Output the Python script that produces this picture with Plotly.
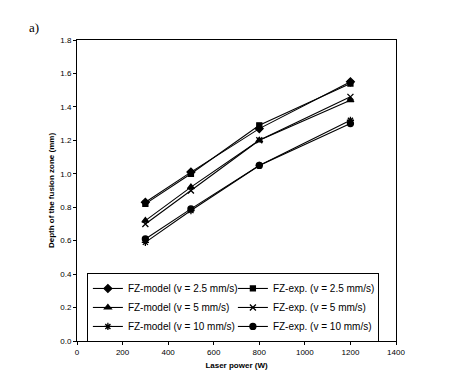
import plotly.graph_objects as go

power = [300, 500, 800, 1200]
model_25 = [0.83, 1.01, 1.27, 1.55]
exp_25 = [0.82, 1.00, 1.29, 1.54]
model_5 = [0.72, 0.92, 1.20, 1.44]
exp_5 = [0.70, 0.90, 1.20, 1.46]
model_10 = [0.59, 0.78, 1.05, 1.32]
exp_10 = [0.61, 0.79, 1.05, 1.30]

names = ["FZ-model (v = 2.5 mm/s)", "FZ-exp. (v = 2.5 mm/s)",
         "FZ-model (v = 5 mm/s)", "FZ-exp. (v = 5 mm/s)",
         "FZ-model (v = 10 mm/s)", "FZ-exp. (v = 10 mm/s)"]
series = [model_25, exp_25, model_5, exp_5, model_10, exp_10]
symbols = ["diamond", "square", "triangle-up", "x-thin-open", "asterisk-open", "circle"]
sizes = [6, 5, 6, 6, 6, 6]

fig = go.Figure()
for n, s, sym, sz in zip(names, series, symbols, sizes):
    fig.add_trace(go.Scatter(
        x=power, y=s, name=n, mode="lines+markers",
        line=dict(color="black", width=1.1),
        marker=dict(symbol=sym, size=sz, color="black",
                    line=dict(color="black", width=1.3)),
    ))

fig.update_layout(
    width=452, height=382,
    margin=dict(l=69, r=64, t=32, b=49),
    paper_bgcolor="white", plot_bgcolor="white",
    font=dict(family="Arial, Liberation Sans, sans-serif", color="black"),
    showlegend=True,
    legend=dict(
        orientation="h", x=0.031, y=0.226, xanchor="left", yanchor="top",
        entrywidth=100, entrywidthmode="pixels",
        bordercolor="black", borderwidth=1, bgcolor="white",
        font=dict(size=10, family="Arial, Liberation Sans, sans-serif"),
        itemwidth=30, tracegroupgap=0,
    ),
    xaxis=dict(range=[0, 1400], dtick=200, showgrid=False, zeroline=False,
               showline=True, linecolor="black", linewidth=1, mirror=True,
               ticks="outside", ticklen=3, tickcolor="black",
               tickfont=dict(size=8),
               title=dict(text="<b>Laser power (W)</b>", font=dict(size=8), standoff=6)),
    yaxis=dict(range=[0, 1.8], dtick=0.2, tickformat=".1f", showgrid=False, zeroline=False,
               showline=True, linecolor="black", linewidth=1, mirror=True,
               ticks="outside", ticklen=3, tickcolor="black",
               tickfont=dict(size=8),
               title=dict(text="<b>Depth of the fusion zone (mm)</b>", font=dict(size=8), standoff=4)),
    annotations=[dict(text="a)", x=-0.135, y=1.04, xref="paper", yref="paper", showarrow=False,
                      xanchor="center", yanchor="middle",
                      font=dict(family="Liberation Serif, Times New Roman, serif", size=13))],
)

fig.write_html("out.html")
